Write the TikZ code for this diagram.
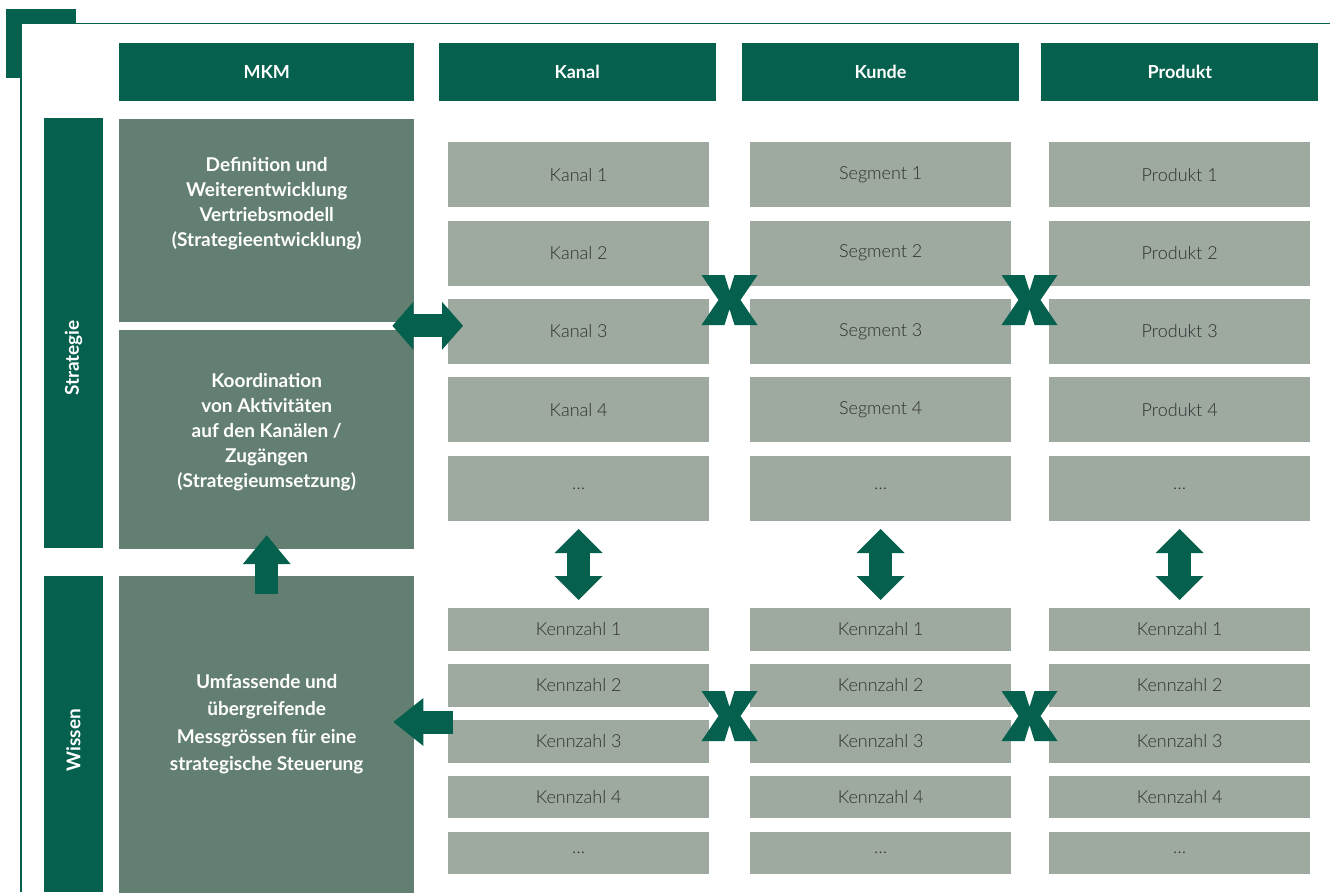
\documentclass[tikz,border=0pt]{standalone}
\usepackage{fontspec}
\setmainfont{Lato}
\newfontfamily\lightfont{Lato Light}
\usepackage{tikz}
\usetikzlibrary{arrows.meta,positioning,calc}

\definecolor{hdgreen}{HTML}{05604D}
\definecolor{mkmgreen}{HTML}{637F71}
\definecolor{cellgray}{HTML}{9EA9A0}
\definecolor{celltext}{HTML}{2F2F2F}

\tikzset{
  hdbox/.style={fill=hdgreen, text=white, font=\bfseries\fontsize{18}{20}\selectfont,
    minimum width=277pt, minimum height=58pt, inner sep=0pt, anchor=north west},
  sidebox/.style={fill=hdgreen, rotate=90, minimum height=59pt, inner sep=0pt},
  sidetext/.style={text=white, rotate=90, font=\bfseries\fontsize{19}{21}\selectfont},
  mkmbox/.style={fill=mkmgreen, minimum width=295pt, inner sep=0pt, anchor=north west},
  mkmtext/.style={text=white, align=center, font=\bfseries\fontsize{19}{25}\selectfont},
  cellbox/.style={fill=cellgray, text=celltext, font=\lightfont\fontsize{18}{20}\selectfont,
    minimum width=261pt, minimum height=65pt, inner sep=0pt, anchor=north west},
  kzbox/.style={cellbox, minimum height=42.5pt},
  blockarrow/.style={draw=hdgreen, line width=23pt,
    >={Triangle[length=#1, width=48pt, line width=0pt]}},
  blockarrow/.default=24pt,
  xmark/.pic={
    \fill[hdgreen] (-28,-25) -- (-5,-25) -- (0,-9) -- (5,-25) -- (28,-25) -- (11,0)
      -- (28,25) -- (5,25) -- (0,9) -- (-5,25) -- (-28,25) -- (-11,0) -- cycle;
  }
}

\begin{document}
\begin{tikzpicture}[x=1pt, y=-1pt]
  \useasboundingbox (0,0) rectangle (1330,892);

  % frame with corner tab
  \fill[hdgreen] (6,9) rectangle (76,78);
  \fill[white] (21,24) rectangle (1330,892);
  \draw[hdgreen, line width=1.5pt] (21,892) |- (1330,23.5);

  % column heads
  \node[hdbox, minimum width=295pt] (hmkm) at (119,43) {MKM};
  \node[hdbox, right=24pt of hmkm] (hkan) {Kanal};
  \node[hdbox, right=26pt of hkan] (hkun) {Kunde};
  \node[hdbox, right=22pt of hkun] (hpro) {Produkt};

  % row labels
  \node[sidebox, minimum width=430pt] (strat) at (73.5,333) {};
  \node[sidebox, minimum width=316pt] (wissen) at (73.5,734) {};
  \node[sidetext] at (73.5,358) {Strategie};
  \node[sidetext] at (73.5,740) {Wissen};

  % MKM column
  \node[mkmbox, minimum height=203pt, below=17pt of hmkm] (m1) {};
  \node[mkmbox, minimum height=219pt, below=8pt of m1] (m2) {};
  \node[mkmbox, minimum height=317pt, below=27pt of m2] (m3) {};
  \node[mkmtext] at ([yshift=16pt]m1.center)
    {Definition und\\Weiterentwicklung\\Vertriebsmodell\\(Strategieentwicklung)};
  \node[mkmtext] at ([yshift=7pt]m2.center)
    {Koordination\\von Aktivitäten\\auf den Kanälen /\\Zugängen\\(Strategieumsetzung)};
  \node[mkmtext, font=\bfseries\fontsize{19}{27.5}\selectfont] at ([yshift=11pt]m3.center)
    {Umfassende und\\übergreifende\\Messgrössen für eine\\strategische Steuerung};

  % dimension cells and key figures
  \foreach \col/\x/\lbl in {kan/448/Kanal, kun/750/Segment, pro/1049/Produkt}{
    \node[cellbox] (\col1) at (\x,142) {\lbl~1};
    \foreach \i/\j in {2/1,3/2,4/3}
      \node[cellbox, below=13pt of \col\j] (\col\i) {\lbl~\i};
    \node[cellbox, below=13pt of \col4] (\col5) {\ldots};

    \node[kzbox] (kz\col1) at (\x,608) {Kennzahl~1};
    \foreach \i/\j in {2/1,3/2,4/3}
      \node[kzbox, below=13pt of kz\col\j] (kz\col\i) {Kennzahl~\i};
    \node[kzbox, below=13pt of kz\col4] (kz\col5) {\ldots};

    \draw[blockarrow, <->, shorten <=8pt, shorten >=8pt] (\col5) -- (kz\col1);
  }

  % combinations
  \pic at (729.5,300) {xmark};
  \pic at (1029.5,300) {xmark};
  \pic at (729.5,716) {xmark};
  \pic at (1029.5,716) {xmark};

  % links to the MKM column
  \coordinate (join) at ($(m1.south east)!.5!(m2.north east)$);
  \draw[blockarrow=21pt, <->, shorten <=-22pt, shorten >=-15pt] (join) -- (join -| kan3.west);
  \draw[blockarrow=29pt, ->, shorten <=-18pt, shorten >=-14pt] (m3.north) -- (m2.south);
  \coordinate (kzin) at (453,722);
  \draw[blockarrow=30pt, ->, shorten >=-21pt] (kzin) -- (kzin -| m3.east);
\end{tikzpicture}
\end{document}
